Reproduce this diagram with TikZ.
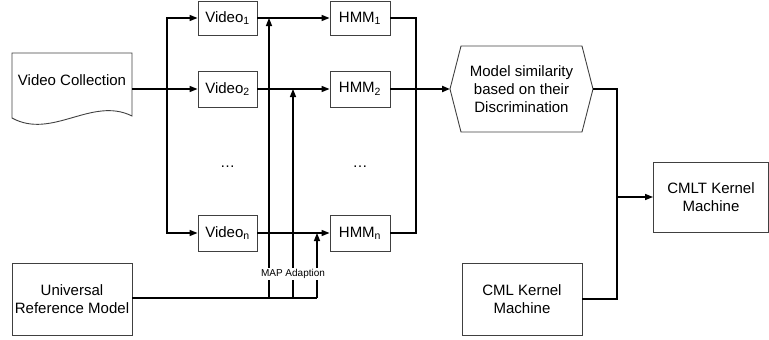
\documentclass[tikz,border=0pt]{standalone}
\usepackage{fontspec}
\setmainfont{Liberation Sans}
\usetikzlibrary{arrows.meta}
\begin{document}
\begin{tikzpicture}[x=1pt,y=-1pt,
  box/.style={draw=black!75,line width=0.9pt,inner sep=0pt,align=center,font=\fontsize{15}{18}\selectfont},
  lbl/.style={inner sep=0pt,align=center,font=\fontsize{15}{18}\selectfont},
  conn/.style={line width=1.4pt,draw=black},
  arr/.style={conn,-{Triangle[length=8pt,width=6pt]}},
  dotj/.style={circle,fill=black,inner sep=0pt,minimum size=3pt}]
\useasboundingbox (0,0) rectangle (769,340);
% Video collection document shape
\draw[draw=black!75,line width=0.9pt] (12,53) -- (132,53) -- (132,116)
  .. controls (92,96) and (52,140) .. (12,118) -- cycle;
\node[lbl] (vc) at (72,80) {Video Collection};
\coordinate (vcout) at (132,89);
% video boxes
\node[box,minimum width=59pt,minimum height=34pt] (v1) at (227.5,18) {Video\textsubscript{1}};
\node[box,minimum width=59pt,minimum height=36pt] (v2) at (227.5,89) {Video\textsubscript{2}};
\node[box,minimum width=59pt,minimum height=36pt] (vn) at (227.5,233) {Video\textsubscript{n}};
\node[lbl] (d1) at (227.5,167) {\dots};
% HMM boxes
\node[box,minimum width=60pt,minimum height=34pt] (h1) at (360,18) {HMM\textsubscript{1}};
\node[box,minimum width=60pt,minimum height=36pt] (h2) at (360,89) {HMM\textsubscript{2}};
\node[box,minimum width=60pt,minimum height=36pt] (hn) at (360,233) {HMM\textsubscript{n}};
\node[lbl] (d2) at (360,167) {\dots};
% universal reference model
\node[box,minimum width=120pt,minimum height=72pt] (urm) at (72,299) {Universal\\Reference Model};
% hexagon
\coordinate (hexL) at (450,89);
\coordinate (hexR) at (593,89);
\draw[draw=black!75,line width=0.9pt] (hexL) -- (461,46) -- (582,46) -- (hexR) -- (582,132) -- (461,132) -- cycle;
\node[lbl] (hex) at (521.5,89) {Model similarity\\based on their\\Discrimination};
% CML and CMLT
\node[box,minimum width=120pt,minimum height=72pt] (cml) at (522,299) {CML Kernel\\Machine};
\node[box,minimum width=115pt,minimum height=70pt] (cmlt) at (711,197) {CMLT Kernel\\Machine};
% split from video collection
\coordinate (split) at (167,89);
\draw[conn,line width=2pt] (vcout) -- (split);
\draw[arr] (split) |- (v1.west);
\draw[arr] (split) -- (v2.west);
\draw[arr] (split) |- (vn.west);
% video -> HMM
\draw[arr] (v1.east) -- (h1.west);
\draw[arr] (v2.east) -- (h2.west);
\draw[arr] (vn.east) -- (hn.west);
% MAP adaption
\coordinate (m1) at (269,298);
\coordinate (m2) at (293,298);
\coordinate (m3) at (317,298);
\draw[conn] (urm.east |- m1) -- (m3);
\draw[arr] (m1) -- (m1 |- v1.east);
\draw[arr] (m2) -- (m2 |- v2.east);
\draw[arr] (m3) -- (m3 |- vn.east);
\node[dotj] (j1) at (m1 |- v2.east) {};
\node[dotj] (j2) at (m1 |- vn.east) {};
\node[dotj] (j3) at (m2 |- vn.east) {};
\node[fill=white,inner sep=1pt,font=\fontsize{10}{12}\selectfont] (map) at (293,274) {MAP Adaption};
% merge HMMs
\coordinate (merge) at (416,89);
\draw[conn] (h1.east) -| (merge);
\draw[conn] (hn.east) -| (merge);
\draw[conn,line width=2pt] (h2.east) -- (merge);
\draw[arr,line width=2pt] (merge) -- (hexL);
% to CMLT
\coordinate (join) at (617,197);
\draw[conn] (hexR) -| (join);
\draw[conn] (cml.east) -| (join);
\draw[arr] (join) -- (cmlt.west);
\end{tikzpicture}
\end{document}
